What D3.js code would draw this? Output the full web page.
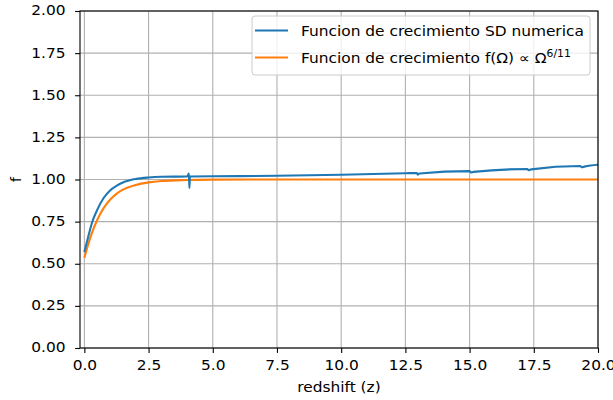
<!DOCTYPE html>
<html>
<head>
<meta charset="utf-8">
<script src="https://cdn.jsdelivr.net/npm/d3@7"></script>
<style>
  html, body { margin: 0; padding: 0; background: #fff; }
  svg { display: block; font-family: "DejaVu Sans", sans-serif; }
</style>
</head>
<body>
<svg id="chart" width="613" height="400"></svg>
<script>
// Growth function f(z): numerical SD solution and the Omega^(6/11) approximation
const zNumeric = [0, 0.1, 0.2, 0.3, 0.5, 0.75, 1.0, 1.25, 1.5, 2.0, 2.5, 3.0, 4.0,
  4.07, 4.09, 4.11, 5.0, 7.5, 10.0, 12.5, 12.95, 12.98, 13.05, 15.0, 15.05, 15.15,
  17.25, 17.3, 17.4, 19.3, 19.37, 19.5, 20.0];
const fNumeric = [0.57, 0.63, 0.69, 0.745, 0.82, 0.89, 0.935, 0.962, 0.982, 1.003, 1.012, 1.016, 1.018,
  1.035, 0.95, 1.018, 1.019, 1.022, 1.028, 1.037, 1.039, 1.029, 1.036, 1.05, 1.042, 1.045,
  1.062, 1.055, 1.06, 1.08, 1.073, 1.078, 1.088];

const zApprox = [0, 0.1, 0.2, 0.3, 0.5, 0.75, 1.0, 1.25, 1.5, 2.0, 2.5, 3.0, 4.0, 5.0, 7.5, 10.0, 15.0, 20.0];
const fApprox = [0.535, 0.59, 0.64, 0.685, 0.76, 0.83, 0.88, 0.915, 0.94, 0.968, 0.983, 0.991, 0.997, 0.999, 1.0, 1.0, 1.0, 1.0];

const xTicks = [0, 2.5, 5, 7.5, 10, 12.5, 15, 17.5, 20];
const yTicks = [0, 0.25, 0.5, 0.75, 1.0, 1.25, 1.5, 1.75, 2.0];

const seriesNames = ["Funcion de crecimiento SD numerica", "Funcion de crecimiento "];
const colors = ["#1f77b4", "#ff7f0e"];

const svg = d3.select("#chart");
const plot = { left: 80, right: 598, top: 11, bottom: 348 };

const x = d3.scaleLinear().domain([-0.17, 20]).range([plot.left, plot.right]);
const y = d3.scaleLinear().domain([0, 2]).range([plot.bottom, plot.top]);

const fontSize = 14;
const stretch = 1.1; // glyphs are drawn slightly wide

// grid
const grid = svg.append("g");
grid.selectAll("line.gx").data(xTicks).enter().append("line")
  .attr("x1", d => x(d)).attr("x2", d => x(d))
  .attr("y1", plot.top).attr("y2", plot.bottom)
  .attr("stroke", "#b0b0b0").attr("stroke-width", 1.1);
grid.selectAll("line.gy").data(yTicks).enter().append("line")
  .attr("x1", plot.left).attr("x2", plot.right)
  .attr("y1", d => y(d)).attr("y2", d => y(d))
  .attr("stroke", "#b0b0b0").attr("stroke-width", 1.1);

// curves
svg.append("clipPath").attr("id", "clip").append("rect")
  .attr("x", plot.left).attr("y", plot.top)
  .attr("width", plot.right - plot.left).attr("height", plot.bottom - plot.top);

const line = d3.line().x(d => x(d[0])).y(d => y(d[1])).curve(d3.curveMonotoneX);
const curves = svg.append("g").attr("clip-path", "url(#clip)");
curves.append("path")
  .datum(zApprox.map((z, i) => [z, fApprox[i]]))
  .attr("d", line).attr("fill", "none")
  .attr("stroke", colors[1]).attr("stroke-width", 2.1);
curves.append("path")
  .datum(zNumeric.map((z, i) => [z, fNumeric[i]]))
  .attr("d", line).attr("fill", "none")
  .attr("stroke", colors[0]).attr("stroke-width", 2.1);

// axes
const xAxis = d3.axisBottom(x).tickValues(xTicks).tickFormat(d3.format(".1f"))
  .tickSizeInner(4.9).tickSizeOuter(0).tickPadding(7.5);
const yAxis = d3.axisLeft(y).tickValues(yTicks).tickFormat(d3.format(".2f"))
  .tickSizeInner(4.9).tickSizeOuter(0).tickPadding(4.9);

const gx = svg.append("g").attr("transform", `translate(0,${plot.bottom})`).call(xAxis);
const gy = svg.append("g").attr("transform", `translate(${plot.left},0)`).call(yAxis);
[gx, gy].forEach(g => {
  g.select(".domain").remove();
  g.selectAll(".tick line").attr("stroke", "#000").attr("stroke-width", 1.1);
  g.selectAll(".tick text").attr("fill", "#000")
    .style("font-size", fontSize + "px").style("font-family", "DejaVu Sans")
    .attr("transform", `scale(${stretch},1)`);
});
gy.selectAll(".tick text").attr("x", -14.5 / stretch).attr("dy", "0.28em");

// spines
svg.append("rect")
  .attr("x", plot.left).attr("y", plot.top)
  .attr("width", plot.right - plot.left).attr("height", plot.bottom - plot.top)
  .attr("fill", "none").attr("stroke", "#000").attr("stroke-width", 1.1);

// axis labels
svg.append("text")
  .attr("transform", `translate(${(plot.left + plot.right) / 2},392) scale(${stretch},1)`)
  .attr("text-anchor", "middle").style("font-size", fontSize + "px")
  .text("redshift (z)");
svg.append("text")
  .attr("transform", `translate(21,${(plot.top + plot.bottom) / 2}) rotate(-90)`)
  .attr("text-anchor", "middle").style("font-size", fontSize + "px")
  .text("f");

// legend
const legend = svg.append("g");
legend.append("rect")
  .attr("x", 252).attr("y", 16).attr("width", 338).attr("height", 59)
  .attr("rx", 3).attr("ry", 3)
  .attr("fill", "#fff").attr("fill-opacity", 0.8)
  .attr("stroke", "#cccccc").attr("stroke-width", 1);

const rows = [30.5, 57.5];
rows.forEach((ry, i) => {
  legend.append("line")
    .attr("x1", 255).attr("x2", 288).attr("y1", ry).attr("y2", ry)
    .attr("stroke", colors[i]).attr("stroke-width", 2.1);
});
legend.append("text")
  .attr("transform", `translate(301,${rows[0] + 5}) scale(${stretch},1)`)
  .style("font-size", fontSize + "px")
  .text(seriesNames[0]);
const t2 = legend.append("text")
  .attr("transform", `translate(301,${rows[1] + 5}) scale(${stretch},1)`)
  .style("font-size", fontSize + "px")
  .attr("xml:space", "preserve");
t2.append("tspan").text(seriesNames[1] + "f(Ω) ∝ Ω");
t2.append("tspan").attr("dy", -6).style("font-size", "9.8px").text("6/11");
</script>
</body>
</html>
